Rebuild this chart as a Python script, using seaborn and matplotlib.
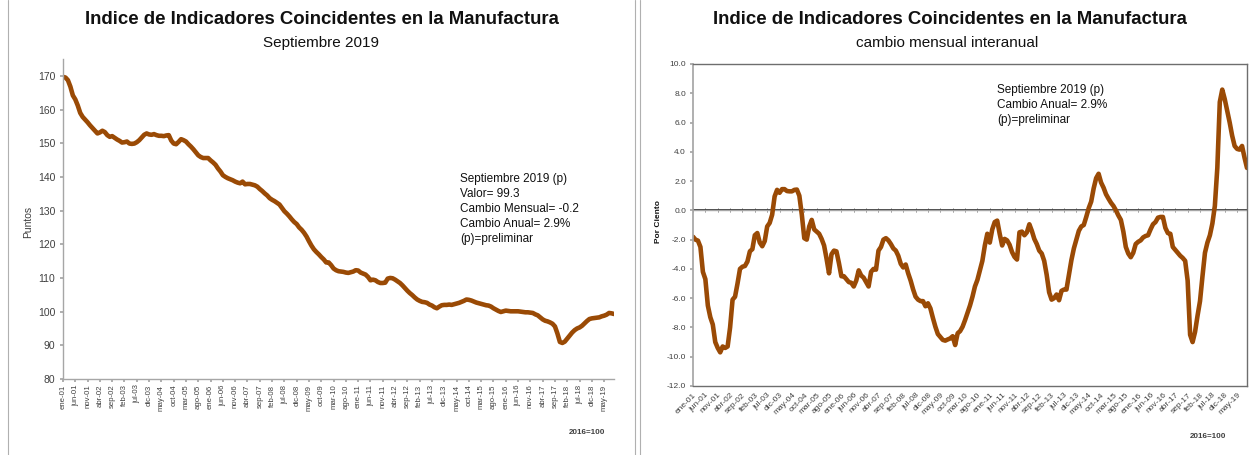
import numpy as np
import pandas as pd
import matplotlib
matplotlib.use("Agg")
import matplotlib.pyplot as plt
import seaborn as sns
from matplotlib.lines import Line2D

# ---------------- data (monthly, ene-01 .. sep-19) ----------------
indice = [
    169.7, 169.5, 168.7, 166.8, 164.2, 163.0, 161.2, 159.0, 157.8, 157.0,
    156.2, 155.3, 154.5, 153.7, 152.9, 153.2, 153.7, 153.3, 152.4, 151.9,
    152.1, 151.6, 151.1, 150.7, 150.2, 150.3, 150.5, 149.9, 149.8, 149.9,
    150.3, 150.9, 151.7, 152.5, 152.9, 152.6, 152.5, 152.7, 152.4, 152.2,
    152.2, 152.1, 152.3, 152.4, 150.8, 149.9, 149.7, 150.4, 151.2, 150.9,
    150.5, 149.7, 149.0, 148.2, 147.3, 146.4, 145.9, 145.6, 145.6, 145.6,
    144.9, 144.3, 143.6, 142.5, 141.6, 140.5, 140.0, 139.6, 139.3, 139.0,
    138.6, 138.3, 138.1, 138.6, 137.8, 137.9, 137.9, 137.7, 137.5, 137.1,
    136.4, 135.8, 135.1, 134.5, 133.7, 133.2, 132.8, 132.3, 131.8, 130.8,
    129.8, 129.1, 128.3, 127.4, 126.6, 126.0, 125.0, 124.3, 123.4, 122.3,
    120.9, 119.6, 118.5, 117.7, 117.0, 116.2, 115.5, 114.6, 114.6, 113.8,
    112.8, 112.3, 112.0, 111.9, 111.8, 111.6, 111.5, 111.7, 111.9, 112.3,
    112.2, 111.6, 111.3, 111.0, 110.3, 109.3, 109.5, 109.3, 108.8, 108.5,
    108.5, 108.6, 109.8, 110.0, 109.9, 109.5, 109.0, 108.5, 107.8, 107.0,
    106.2, 105.5, 104.9, 104.2, 103.6, 103.2, 102.9, 102.8, 102.6, 102.1,
    101.8, 101.3, 101.0, 101.5, 101.9, 102.0, 102.0, 102.1, 102.0, 102.2,
    102.4, 102.6, 102.9, 103.2, 103.6, 103.5, 103.3, 103.0, 102.7, 102.5,
    102.3, 102.1, 101.9, 101.8, 101.5, 101.0, 100.6, 100.2, 99.9, 100.1,
    100.3, 100.2, 100.1, 100.1, 100.1, 100.1, 100.0, 99.9, 99.8, 99.8,
    99.7, 99.6, 99.2, 98.9, 98.3, 97.7, 97.3, 97.1, 96.8, 96.4,
    95.6, 93.5, 91.0, 90.7, 91.1, 92.0, 92.9, 93.8, 94.5, 95.0,
    95.3, 95.8, 96.5, 97.2, 97.8, 98.0, 98.1, 98.2, 98.3, 98.6,
    98.8, 99.1, 99.6, 99.5, 99.3,
]

cambio_anual = [
    -1.8, -2.0, -2.07, -2.5, -4.2, -4.7, -6.5, -7.3, -7.8, -9.0,
    -9.4, -9.7, -9.3, -9.4, -9.3, -8.0, -6.1, -5.9, -5.0, -4.0,
    -3.85, -3.8, -3.5, -2.8, -2.65, -1.7, -1.55, -2.2, -2.45, -2.1,
    -1.1, -0.86, -0.3, 0.95, 1.4, 1.2, 1.45, 1.45, 1.32, 1.3,
    1.3, 1.4, 1.42, 1.0, -0.3, -1.9, -2.0, -1.1, -0.65, -1.3,
    -1.45, -1.6, -1.95, -2.4, -3.3, -4.3, -3.0, -2.75, -2.8, -3.6,
    -4.5, -4.5, -4.7, -4.9, -4.95, -5.2, -4.8, -4.1, -4.45, -4.6,
    -4.9, -5.2, -4.2, -4.0, -4.05, -2.75, -2.5, -2.0, -1.9, -2.05,
    -2.3, -2.6, -2.75, -3.1, -3.65, -3.9, -3.7, -4.3, -4.8, -5.4,
    -5.9, -6.1, -6.2, -6.2, -6.55, -6.35, -6.7, -7.35, -7.95, -8.45,
    -8.65, -8.85, -8.9, -8.82, -8.75, -8.6, -9.2, -8.4, -8.25, -7.95,
    -7.5, -7.0, -6.5, -5.9, -5.2, -4.75, -4.1, -3.45, -2.4, -1.6,
    -2.2, -1.3, -0.8, -0.7, -1.6, -2.4, -1.95, -2.05, -2.35, -2.85,
    -3.18, -3.36, -1.5, -1.45, -1.7, -1.5, -0.95, -1.4, -1.95, -2.3,
    -2.75, -2.95, -3.45, -4.4, -5.6, -6.1, -6.0, -5.75, -6.14, -5.5,
    -5.41, -5.41, -4.4, -3.4, -2.6, -2.0, -1.4, -1.1, -1.0, -0.45,
    0.15, 0.6, 1.5, 2.2, 2.5, 1.9, 1.55, 1.1, 0.8, 0.52,
    0.3, 0.0, -0.35, -0.65, -1.45, -2.5, -2.95, -3.2, -2.9, -2.3,
    -2.15, -2.05, -1.85, -1.75, -1.7, -1.3, -0.95, -0.8, -0.5, -0.45,
    -0.45, -1.2, -1.55, -1.6, -2.5, -2.7, -2.9, -3.1, -3.25, -3.45,
    -4.8, -8.5, -9.0, -8.3, -7.2, -6.2, -4.5, -2.9, -2.2, -1.7,
    -0.9, 0.3, 2.9, 7.4, 8.25, 7.6, 6.8, 6.0, 5.1, 4.4,
    4.2, 4.15, 4.4, 3.6, 2.9,
]

etiquetas_x = [
    "ene-01", "jun-01", "nov-01", "abr-02", "sep-02", "feb-03", "jul-03", "dic-03",
    "may-04", "oct-04", "mar-05", "ago-05", "ene-06", "jun-06", "nov-06", "abr-07",
    "sep-07", "feb-08", "jul-08", "dic-08", "may-09", "oct-09", "mar-10", "ago-10",
    "ene-11", "jun-11", "nov-11", "abr-12", "sep-12", "feb-13", "jul-13", "dic-13",
    "may-14", "oct-14", "mar-15", "ago-15", "ene-16", "jun-16", "nov-16", "abr-17",
    "sep-17", "feb-18", "jul-18", "dic-18", "may-19",
]

titulo = "Indice de Indicadores Coincidentes en la Manufactura"
sub_izq = "Septiembre 2019"
sub_der = "cambio mensual interanual"
nota_izq = "Septiembre 2019 (p)\nValor= 99.3\nCambio Mensual= -0.2\nCambio Anual= 2.9%\n(p)=preliminar"
nota_der = "Septiembre 2019 (p)\nCambio Anual= 2.9%\n(p)=preliminar"
base = "2016=100"

# ---------------- style ----------------
sns.set_theme(style="white")
plt.rcParams["font.family"] = ["Liberation Sans", "DejaVu Sans"]
plt.rcParams["axes.unicode_minus"] = False

LINE = "#9A4A05"
TXT = "#404040"
AXC = "#A6A6A6"
W, H = 1259, 455

df = pd.DataFrame({"mes": np.arange(len(indice)),
                   "indice": indice,
                   "cambio": cambio_anual})
tick_pos = np.arange(len(etiquetas_x)) * 5

fig = plt.figure(figsize=(W / 100, H / 100), dpi=100)

def fx(px):
    return px / W

def fy(py):
    return 1 - py / H

# ---------------- left panel ----------------
ax1 = fig.add_axes([fx(63), fy(379), fx(614) - fx(63), fy(59) - fy(379)])
sns.lineplot(data=df, x="mes", y="indice", ax=ax1, color=LINE, lw=3.3)
ax1.set_xlim(0, len(indice) - 1)
ax1.set_ylim(80, 175)
ax1.set_yticks(np.arange(80, 171, 10))
ax1.set_xticks(tick_pos)
ax1.set_xticklabels(etiquetas_x, rotation=90, fontsize=5.6, color=TXT)
ax1.tick_params(axis="y", labelsize=7.5, labelcolor=TXT, length=2.5, color=AXC,
                direction="out", left=True, pad=3)
ax1.tick_params(axis="x", length=2, color=AXC, bottom=True, pad=2)
for s in ["top", "right"]:
    ax1.spines[s].set_visible(False)
for s in ["left", "bottom"]:
    ax1.spines[s].set_color(AXC)
    ax1.spines[s].set_linewidth(1.0)
ax1.set_xlabel("")
ax1.set_ylabel("")
ax1.grid(False)

fig.text(fx(28), fy(222), "Puntos", rotation=90, ha="center", va="center",
         fontsize=7.5, color=TXT)
fig.text(fx(322), fy(20), titulo, ha="center", va="center", fontsize=13.4,
         fontweight="bold", color="#111111")
fig.text(fx(321), fy(43), sub_izq, ha="center", va="center", fontsize=11, color="#111111")
fig.text(fx(460), fy(173), nota_izq, ha="left", va="top", fontsize=8.5,
         linespacing=1.32, color="#111111")
fig.text(fx(587), fy(432), base, ha="center", va="center", fontsize=5.8,
         fontweight="bold", color=TXT)

# ---------------- right panel ----------------
ax2 = fig.add_axes([fx(693), fy(386), fx(1247) - fx(693), fy(64) - fy(386)])
sns.lineplot(data=df, x="mes", y="cambio", ax=ax2, color=LINE, lw=3.3)
ax2.set_xlim(0, len(cambio_anual) - 1)
ax2.set_ylim(-12, 10)
ax2.set_yticks(np.arange(-12, 10.1, 2))
ax2.set_yticklabels([f"{v:.1f}" for v in np.arange(-12, 10.1, 2)])
ax2.set_xticks(tick_pos)
ax2.set_xticklabels(etiquetas_x, rotation=45, ha="right", rotation_mode="anchor",
                    fontsize=6, color=TXT)
ax2.tick_params(axis="y", labelsize=6, labelcolor=TXT, length=2, color=AXC,
                left=True, pad=3)
ax2.tick_params(axis="x", length=0, pad=4)
ax2.axhline(0, color=AXC, lw=1.0, zorder=1)
sec = ax2.secondary_xaxis(12 / 22)
sec.set_xticks(tick_pos)
sec.set_xticklabels([])
sec.tick_params(axis="x", length=3, width=0.7, direction="inout", colors=AXC, bottom=True)
for t in sec.xaxis.get_major_ticks():
    t.tick1line.set_color(AXC)
    t.tick2line.set_color(AXC)
sec.spines["bottom"].set_visible(False)
ax2.spines["left"].set_color(AXC)
for s in ["top", "right", "bottom"]:
    ax2.spines[s].set_color("#6E6E6E")
    ax2.spines[s].set_linewidth(1.0)
ax2.set_xlabel("")
ax2.set_ylabel("")
ax2.grid(False)

fig.text(fx(658), fy(222), "Por Ciento", rotation=90, ha="center", va="center",
         fontsize=6, fontweight="bold", color="#111111")
fig.text(fx(950), fy(20), titulo, ha="center", va="center", fontsize=13.4,
         fontweight="bold", color="#111111")
fig.text(fx(947), fy(43), sub_der, ha="center", va="center", fontsize=11, color="#111111")
fig.text(fx(997), fy(84), nota_der, ha="left", va="top", fontsize=8.5,
         linespacing=1.32, color="#111111")
fig.text(fx(1208), fy(437), base, ha="center", va="center", fontsize=5.8,
         fontweight="bold", color=TXT)

# panel frame lines
for px in (8, 635, 640):
    fig.add_artist(Line2D([fx(px), fx(px)], [0, 1], color="#B0B0B0", lw=0.8))

fig.savefig("out.png", dpi=100, facecolor="white")
